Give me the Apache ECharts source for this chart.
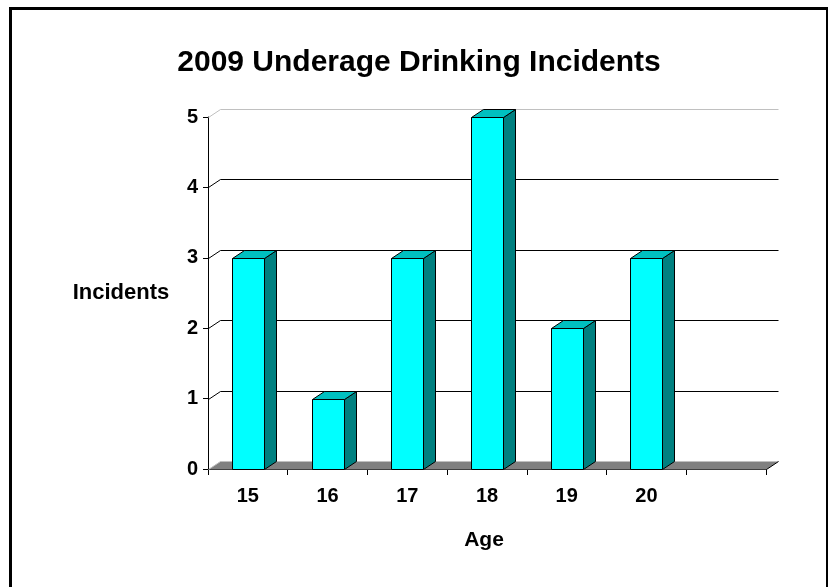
<!DOCTYPE html>
<html>
<head>
<meta charset="utf-8">
<script src="https://cdn.jsdelivr.net/npm/echarts@6/dist/echarts.min.js"></script>
<style>
html,body{margin:0;padding:0;background:#fff;}
#c{width:828px;height:587px;}
</style>
</head>
<body>
<div id="c"></div>
<script>
const categories = ['15', '16', '17', '18', '19', '20', ''];
const incidents = [3, 1, 3, 5, 2, 3];
const yTicks = [1, 2, 3, 4, 5];
const titleText = '2009 Underage Drinking Incidents';
const yName = 'Incidents';
const xName = 'Age';

const FONT = '"Liberation Sans", Arial, sans-serif';
const DX = 12, DY = 8;
const p = v => Math.round(v) + 0.5;

const chart = echarts.init(document.getElementById('c'), null, {renderer: 'canvas'});

function renderBar(params, api) {
  const i = api.value(0), v = api.value(1);
  const top = api.coord([i, v]);
  const base = api.coord([i, 0]);
  const bw = api.size([1, 0])[0];
  const half = bw * 0.2;
  const xl = p(top[0] - half), xr = p(top[0] + half);
  const yt = p(top[1]), yb = p(base[1]);
  const st = {stroke: '#000', lineWidth: 1};
  return {
    type: 'group',
    children: [
      {type: 'polygon', shape: {points: [[xr, yb], [xr + DX, yb - DY], [xr + DX, yt - DY], [xr, yt]]},
       style: Object.assign({fill: '#008080'}, st)},
      {type: 'polygon', shape: {points: [[xl, yt], [xl + DX, yt - DY], [xr + DX, yt - DY], [xr, yt]]},
       style: Object.assign({fill: '#00C0C0'}, st)},
      {type: 'rect', shape: {x: xl, y: yt, width: xr - xl, height: yb - yt},
       style: Object.assign({fill: '#00FFFF'}, st)}
    ]
  };
}

function renderWall(params, api) {
  const v = api.value(1);
  const cs = params.coordSys;
  const y = p(api.coord([0, v])[1]);
  const x0 = p(cs.x), x1 = p(cs.x + cs.width);
  const col = v === yTicks[yTicks.length - 1] ? '#c0c0c0' : '#000';
  return {
    type: 'polyline',
    shape: {points: [[x0, y], [x0 + DX, y - DY], [x1 + DX, y - DY]]},
    style: {stroke: col, lineWidth: 1, fill: null}
  };
}

function renderFloor(params, api) {
  const cs = params.coordSys;
  const y = p(api.coord([0, 0])[1]);
  const x0 = p(cs.x), x1 = p(cs.x + cs.width);
  return {
    type: 'group',
    children: [
      {type: 'polygon', shape: {points: [[x0, y], [x1, y], [x1 + DX, y - DY], [x0 + DX, y - DY]]},
       style: {fill: '#808080', stroke: null}},
      {type: 'polyline', shape: {points: [[x0, y], [x0 + DX, y - DY], [x1 + DX, y - DY]]},
       style: {stroke: '#c0c0c0', lineWidth: 1, fill: null}},
      {type: 'line', shape: {x1: x1, y1: y, x2: x1 + DX, y2: y - DY},
       style: {stroke: '#000', lineWidth: 1}}
    ]
  };
}

chart.setOption({
  animation: false,
  backgroundColor: '#fff',
  grid: {left: 208, right: 62, top: 117, bottom: 118, containLabel: false},
  xAxis: {
    type: 'category',
    data: categories,
    boundaryGap: true,
    axisLine: {show: true, lineStyle: {color: '#000', width: 1}},
    axisTick: {show: true, inside: false, length: 6, lineStyle: {color: '#000'}},
    axisLabel: {color: '#000', fontFamily: FONT, fontWeight: 'bold', fontSize: 20, margin: 17},
    splitLine: {show: false}
  },
  yAxis: {
    type: 'value',
    min: 0, max: 5, interval: 1,
    axisLine: {show: true, lineStyle: {color: '#000', width: 1}},
    axisTick: {show: true, inside: false, length: 5, lineStyle: {color: '#000'}},
    axisLabel: {color: '#000', fontFamily: FONT, fontWeight: 'bold', fontSize: 20, margin: 10},
    splitLine: {show: false}
  },
  graphic: [
    {type: 'rect', z: 100,
     shape: {x: 10.5, y: 8.5, width: 817, height: 600},
     style: {fill: null, stroke: '#000', lineWidth: 3}, silent: true},
    {type: 'text', x: 419, y: 63, z: 100,
     style: {text: titleText, font: 'bold 30px ' + FONT, fill: '#000', textAlign: 'center', textVerticalAlign: 'middle'}},
    {type: 'text', x: 121, y: 293, z: 100,
     style: {text: yName, font: 'bold 22px ' + FONT, fill: '#000', textAlign: 'center', textVerticalAlign: 'middle'}},
    {type: 'text', x: 484, y: 540, z: 100,
     style: {text: xName, font: 'bold 21px ' + FONT, fill: '#000', textAlign: 'center', textVerticalAlign: 'middle'}}
  ],
  series: [
    {type: 'custom', name: 'wall', renderItem: renderWall, z: 1, clip: false,
     data: yTicks.map(v => [0, v]), encode: {x: 0, y: 1}, silent: true},
    {type: 'custom', name: 'floor', renderItem: renderFloor, z: 2, clip: false,
     data: [[0, 0]], encode: {x: 0, y: 1}, silent: true},
    {type: 'custom', name: 'Incidents', renderItem: renderBar, z: 3, clip: false,
     data: incidents.map((v, i) => [i, v]), encode: {x: 0, y: 1}}
  ]
});
</script>
</body>
</html>
